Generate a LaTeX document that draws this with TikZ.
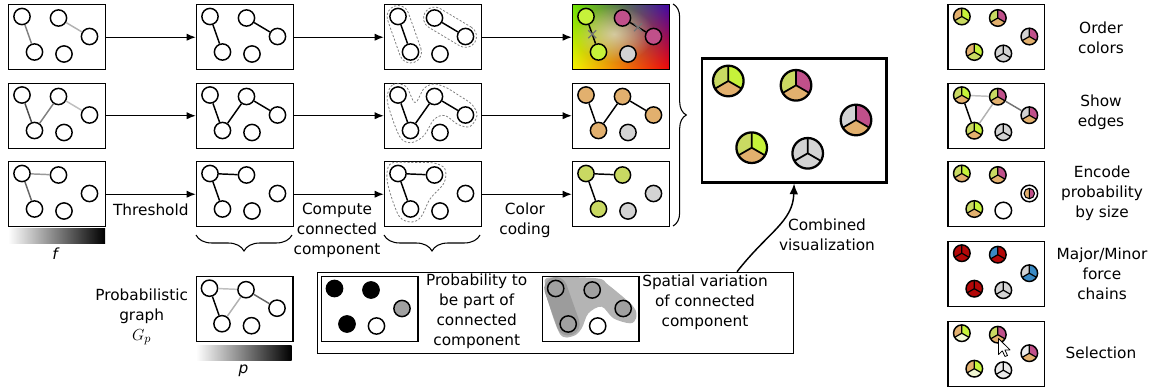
\documentclass[tikz,border=0pt]{standalone}
\usepackage{fontspec}
\setmainfont{DejaVu Sans}
\usetikzlibrary{arrows.meta,calc,decorations.pathreplacing,shapes.misc,fadings,shadings}
\tikzfading[name=myfadeout, inner color=transparent!0, outer color=transparent!100]
\definecolor{cLime}{HTML}{C6F23A}
\definecolor{cMag}{HTML}{C0508A}
\definecolor{cTan}{HTML}{E2B06E}
\definecolor{cOlv}{HTML}{C9D962}
\definecolor{cGry}{HTML}{D3D3D3}
\definecolor{cRed}{HTML}{B30808}
\definecolor{cBlu}{HTML}{3A8AC4}
\definecolor{cPale}{HTML}{F1F6D2}
\definecolor{cLgry}{HTML}{EBEBEB}
\definecolor{cHullA}{HTML}{B4B4B4}
\definecolor{cHullB}{HTML}{9C9C9C}
\definecolor{cNode}{HTML}{A0A0A0}
\definecolor{gUL}{HTML}{6CE400}
\definecolor{gUR}{HTML}{4008A8}
\definecolor{gLL}{HTML}{F8F400}
\definecolor{gLR}{HTML}{F00808}

% five graph nodes in the standard layout: prefix, x0, y0, fills A..E
\newcommand\gnodes[8]{%
 \node[gn,fill=#4] (#1a) at (#2+14,#3+12.5) {};
 \node[gn,fill=#5] (#1b) at (#2+50.5,#3+14) {};
 \node[gn,fill=#6] (#1c) at (#2+81.5,#3+32.5) {};
 \node[gn,fill=#7] (#1d) at (#2+26.5,#3+48) {};
 \node[gn,fill=#8] (#1e) at (#2+56,#3+50) {};
}
% pie glyph: name, x, y, r, left, right, bottom
\newcommand\pie[7]{%
 \fill[#5] (#2,#3) -- ++(0,-#4) arc[start angle=-90,end angle=-210,radius=#4] -- cycle;
 \fill[#6] (#2,#3) -- ++(30:#4) arc[start angle=30,end angle=-90,radius=#4] -- cycle;
 \fill[#7] (#2,#3) -- ++(150:#4) arc[start angle=150,end angle=30,radius=#4] -- cycle;
 \draw[sep] (#2,#3) -- ++(0,-#4) (#2,#3) -- ++(30:#4) (#2,#3) -- ++(150:#4);
 \node[gly, minimum size={#4*1.5pt}] (#1) at (#2,#3) {};
}
% capsule: style, x1, y1, x2, y2, r
\newcommand\capsule[6]{%
 \pgfmathsetmacro\capang{atan2((#5)-(#3),(#4)-(#2))}%
 \path[#1] ($(#4,#5)+(\capang-90:#6)$) arc[start angle=\capang-90,delta angle=180,radius=#6]
   -- ($(#2,#3)+(\capang+90:#6)$) arc[start angle=\capang+90,delta angle=180,radius=#6] -- cycle;
}

\begin{document}
\begin{tikzpicture}[x=0.75pt,y=-0.75pt,
 panel/.style={draw, line width=1.1pt, minimum width=72.4pt, minimum height=48.75pt, inner sep=0pt, anchor=north west},
 gn/.style={circle, draw, line width=1.1pt, minimum size=12.2pt, inner sep=0pt, fill=white},
 lnk/.style={line width=1.1pt},
 flow/.style={line width=1.1pt, -{Latex[length=7pt,width=5.5pt]}},
 hull/.style={draw=black!50, line width=0.6pt, dash pattern=on 1.6pt off 1.3pt},
 brc/.style={decorate, decoration={brace, amplitude=#1}, line width=0.8pt},
 lbl/.style={align=center, inner sep=0pt, font=\fontsize{11.5}{15}\selectfont},
 gly/.style={circle, draw, line width=1.1pt, inner sep=0pt},
 sep/.style={line width=0.9pt},
 xm/.style={cross out, draw=black!55, line width=0.9pt, minimum size=5pt, inner sep=0pt},
]
\useasboundingbox (0,0) rectangle (1156,389);

% ---------------- column 1 : input graphs
\node[panel] (p11) at (8,4) {};
\node[panel] (p21) at (8,82.5) {};
\node[panel] (p31) at (8,161) {};
\gnodes{a11}{8}{4}{white}{white}{white}{white}{white}
\gnodes{a21}{8}{82.5}{white}{white}{white}{white}{white}
\gnodes{a31}{8}{161}{white}{white}{white}{white}{white}
\draw[lnk,black!50] (a11a) -- (a11d);
\draw[lnk,black!30] (a11b) -- (a11c);
\draw[lnk,black!70] (a21a) -- (a21d);
\draw[lnk,black!50] (a21d) -- (a21b);
\draw[lnk,black!25] (a21b) -- (a21c);
\draw[lnk,black!40] (a31a) -- (a31b);
\draw[lnk,black!60] (a31a) -- (a31d);

% ---------------- column 2 : thresholded
\node[panel] (p12) at (196,4) {};
\node[panel] (p22) at (196,82.5) {};
\node[panel] (p32) at (196,161) {};
\gnodes{a12}{196}{4}{white}{white}{white}{white}{white}
\gnodes{a22}{196}{82.5}{white}{white}{white}{white}{white}
\gnodes{a32}{196}{161}{white}{white}{white}{white}{white}
\draw[lnk] (a12a) -- (a12d);
\draw[lnk] (a12b) -- (a12c);
\draw[lnk] (a22a) -- (a22d);
\draw[lnk] (a22d) -- (a22b);
\draw[lnk] (a22b) -- (a22c);
\draw[lnk] (a32a) -- (a32b);
\draw[lnk] (a32a) -- (a32d);

% ---------------- column 3 : connected components
\node[panel] (p13) at (384,4) {};
\node[panel] (p23) at (384,82.5) {};
\node[panel] (p33) at (384,161) {};
\capsule{hull}{384+14}{4+12.5}{384+26.5}{4+48}{11}
\capsule{hull}{384+50.5}{4+14}{384+81.5}{4+32.5}{11}
\begin{scope}[shift={(384,82.5)}]
\draw[hull] plot[smooth cycle, tension=0.55] coordinates {(3,15) (9,2) (22,4) (31,20) (40,6) (50,1.5) (62,5) (75,13) (88,22) (93,33) (86,44) (74,42) (61,33) (50,37) (40,53) (28,60) (17,56) (8,35)};
\end{scope}
\begin{scope}[shift={(384,161)}]
\draw[hull] plot[smooth cycle, tension=0.55] coordinates {(3,12) (8,2) (30,1.5) (50,2) (61,8) (60,22) (46,38) (37,56) (27,61) (15,55) (5,28)};
\end{scope}
\gnodes{a13}{384}{4}{white}{white}{white}{white}{white}
\gnodes{a23}{384}{82.5}{white}{white}{white}{white}{white}
\gnodes{a33}{384}{161}{white}{white}{white}{white}{white}
\draw[lnk] (a13a) -- (a13d);
\draw[lnk] (a13b) -- (a13c);
\draw[lnk] (a23a) -- (a23d);
\draw[lnk] (a23d) -- (a23b);
\draw[lnk] (a23b) -- (a23c);
\draw[lnk] (a33a) -- (a33b);
\draw[lnk] (a33a) -- (a33d);

% ---------------- column 4 : colour coding
\shade[upper left=gUL, upper right=gUR, lower left=gLL, lower right=gLR] (572,4) rectangle (668.5,69);
\fill[white, fill opacity=0.55, path fading=myfadeout] (614,34) ellipse (40 and 28);
\node[panel] (p14) at (572,4) {};
\node[panel] (p24) at (572,82.5) {};
\node[panel] (p34) at (572,161) {};
\gnodes{a14}{572}{4}{cLime}{cMag}{cMag}{cLime}{cGry}
\gnodes{a24}{572}{82.5}{cTan}{cTan}{cTan}{cTan}{cGry}
\gnodes{a34}{572}{161}{cOlv}{cOlv}{cGry}{cOlv}{cGry}
\draw[lnk] (a14a) -- node[xm]{} (a14d);
\draw[lnk] (a14b) -- node[xm]{} (a14c);
\draw[lnk] (a24a) -- (a24d);
\draw[lnk] (a24d) -- (a24b);
\draw[lnk] (a24b) -- (a24c);
\draw[lnk] (a34a) -- (a34b);
\draw[lnk] (a34a) -- (a34d);

% ---------------- flow arrows
\draw[flow] (p11) -- (p12);
\draw[flow] (p12) -- (p13);
\draw[flow] (p13) -- (p14);
\draw[flow] (p21) -- (p22);
\draw[flow] (p22) -- (p23);
\draw[flow] (p23) -- (p24);
\draw[flow] (p31) -- (p32);
\draw[flow] (p32) -- (p33);
\draw[flow] (p33) -- (p34);

\node[lbl] (tthr) at (150.8,210) {Threshold};
\node[lbl] (tccc) at (337,230) {Compute\\connected\\component};
\node[lbl] (tcol) at (525,220) {Color\\coding};

% gradient bar f
\shade[left color=white, right color=black] (8,228.3) rectangle (105,243.3);
\node[lbl] (tf) at (56,254) {\textit{f}};

% braces
\coordinate (b2r) at (292,235);
\coordinate (b2l) at (196,235);
\coordinate (b3r) at (480,235);
\coordinate (b3l) at (384,235);
\draw[brc=12pt] (b2r) -- (b2l);
\draw[brc=12pt] (b3r) -- (b3l);
\coordinate (bt) at (673,4);
\coordinate (bb) at (673,226);
\draw[brc=10pt] (bt) -- (bb);

% ---------------- probabilistic graph
\node[panel] (pg) at (195.5,275.7) {};
\gnodes{g}{195.5}{275.7}{white}{white}{white}{white}{white}
\draw[lnk,black!25] (ga) -- (gb);
\draw[lnk] (ga) -- (gd);
\draw[lnk,black!30] (gd) -- (gb);
\draw[lnk,black!60] (gb) -- (gc);
\shade[left color=white, right color=black] (196,345) rectangle (291.5,360);
\node[lbl] (tp) at (243.5,371) {\textit{p}};
\node[lbl] (tpg) at (141.7,317) {Probabilistic\\graph\\{\fontsize{13}{15}\selectfont$G_p$}};

% ---------------- legend box
\node[draw, line width=1.1pt, anchor=north west, minimum width=357.2pt, minimum height=60.75pt, inner sep=0pt] (legend) at (316.7,271.7) {};
\node[panel] (lg1) at (320.5,276) {};
\gnodes{l1}{320.5}{276}{black}{black}{cNode}{black}{white}
\node[lbl] (tprob) at (476.7,311.5) {Probability to\\be part of\\connected\\component};
\begin{scope}[shift={(541.7,276)}]
\fill[cHullA] plot[smooth cycle, tension=0.55] coordinates {(3.3,9) (8,1.5) (55,2.3) (66.7,9) (91.7,30.7) (94.3,42.3) (88.3,47.3) (71.7,42.3) (60,30.7) (46.7,37.3) (40,52.3) (31.7,60) (18.3,58) (5,20.7)};
\end{scope}
\capsule{fill=cHullB}{541.7+14}{276+12.5}{541.7+26.5}{276+48}{11.5}
\node[panel] (lg2) at (541.7,276) {};
\gnodes{l2}{541.7}{276}{cNode}{cNode}{cNode}{cNode}{white}
\node[lbl] (tspat) at (705,302.7) {Spatial variation\\of connected\\component};

% ---------------- combined visualisation
\node[draw, line width=1.9pt, anchor=north west, minimum width=138.2pt, minimum height=92.8pt, inner sep=0pt] (comb) at (700.7,57.3) {};
\begin{scope}[gly/.style={circle, draw, line width=1.7pt, inner sep=0pt}, sep/.style={line width=1.3pt}]
\pie{ca}{728.3}{81}{15.3}{cOlv}{cLime}{cTan}
\pie{cb}{796}{85.3}{15.3}{cOlv}{cMag}{cTan}
\pie{cc}{856}{120}{15.3}{cGry}{cMag}{cTan}
\pie{cd}{751.7}{147.7}{15.3}{cOlv}{cLime}{cTan}
\pie{ce}{807.7}{153.3}{15.3}{cGry}{cGry}{cGry}
\end{scope}
\coordinate (cvs) at (737,271.7);
\draw[line width=1.1pt, -{Latex[length=8pt,width=6.5pt]}] (cvs) .. controls (768,232) and (793,222) .. (comb.south);
\node[lbl] (tcomb) at (827,235) {Combined\\visualization};

% ---------------- right column
\node[panel] (q1) at (947.3,4) {};
\pie{q1a}{961.8}{16.5}{8.3}{cTan}{cLime}{cOlv}
\pie{q1b}{997.8}{18}{8.3}{cOlv}{cMag}{cTan}
\pie{q1c}{1029.3}{36.5}{8.3}{cGry}{cMag}{cTan}
\pie{q1d}{974.3}{52}{8.3}{cTan}{cLime}{cOlv}
\pie{q1e}{1003.3}{53.5}{8.3}{cGry}{cGry}{cGry}
\node[lbl] (tq1) at (1101,38) {Order\\colors};

\node[panel] (q2) at (947.3,82.7) {};
\pie{q2a}{961.8}{95.2}{8.3}{cOlv}{cLime}{cTan}
\pie{q2b}{997.8}{96.7}{8.3}{cOlv}{cMag}{cTan}
\pie{q2c}{1029.3}{115.2}{8.3}{cGry}{cMag}{cTan}
\pie{q2d}{974.3}{130.7}{8.3}{cOlv}{cLime}{cTan}
\pie{q2e}{1003.3}{132.2}{8.3}{cGry}{cGry}{cGry}
\draw[lnk,black!25] (q2a) -- (q2b);
\draw[lnk] (q2a) -- (q2d);
\draw[lnk,black!30] (q2d) -- (q2b);
\draw[lnk,black!55] (q2b) -- (q2c);
\node[lbl] (tq2) at (1101,112.5) {Show\\edges};

\node[panel] (q3) at (947.3,161) {};
\pie{q3a}{961.8}{173.5}{8.3}{cOlv}{cLime}{cTan}
\pie{q3b}{997.8}{175}{8.3}{cOlv}{cMag}{cTan}
\node[gly, fill=white, minimum size=12.45pt] (q3c) at (1029.3,193.5) {};
\fill[cTan] (1029.3,193.5) -- ++(0,-5.2) arc[start angle=-90,end angle=-270,radius=5.2] -- cycle;
\fill[cMag] (1029.3,193.5) -- ++(0,-5.2) arc[start angle=-90,end angle=90,radius=5.2] -- cycle;
\draw[line width=0.8pt] (1029.3,193.5) circle[radius=5.2] (1029.3,188.3) -- (1029.3,198.7);
\pie{q3d}{974.3}{209}{8.3}{cOlv}{cLime}{cTan}
\node[gly, fill=white, minimum size=12.45pt] (q3e) at (1003.3,210.5) {};
\node[lbl] (tq3) at (1102,193) {Encode\\probability\\by size};

\node[panel] (q4) at (947.3,240.7) {};
\pie{q4a}{961.8}{253.2}{8.3}{cRed}{cRed}{cRed}
\pie{q4b}{997.8}{254.7}{8.3}{cBlu}{cRed}{cRed}
\pie{q4c}{1029.3}{273.2}{8.3}{cGry}{cBlu}{cBlu}
\pie{q4d}{974.3}{288.7}{8.3}{cRed}{cRed}{cRed}
\pie{q4e}{1003.3}{290.2}{8.3}{cGry}{cGry}{cGry}
\node[lbl] (tq4) at (1102,274) {Major/Minor\\force\\chains};

\node[panel] (q5) at (947.3,320.7) {};
\pie{q5a}{961.8}{333.2}{8.3}{cTan}{cLime}{cPale}
\pie{q5b}{997.8}{334.7}{8.3}{cOlv}{cMag}{cTan}
\pie{q5c}{1029.3}{353.2}{8.3}{cLgry}{cMag}{cTan}
\pie{q5d}{974.3}{368.7}{8.3}{cTan}{cLime}{cPale}
\pie{q5e}{1003.3}{370.2}{8.3}{cLgry}{cLgry}{cLgry}
\draw[fill=white, line width=0.6pt, line join=round] (998.5,338.5) -- ++(0,16) -- ++(3.8,-3.6) -- ++(2.7,5.6) -- ++(2.5,-1) -- ++(-2.6,-5.6) -- ++(5.1,0) -- cycle;
\node[lbl] (tq5) at (1101,353) {Selection};
\end{tikzpicture}
\end{document}
